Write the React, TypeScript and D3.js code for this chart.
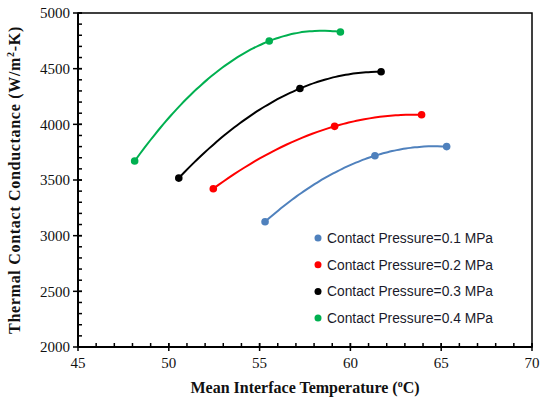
import React from 'react'
import * as d3 from 'd3'

const seriesNames = [
  'Contact Pressure=0.1 MPa',
  'Contact Pressure=0.2 MPa',
  'Contact Pressure=0.3 MPa',
  'Contact Pressure=0.4 MPa',
]
const seriesColors = ['#4f81bd', '#ff0000', '#000000', '#00b050']
const temps01 = [55.3, 61.35, 65.3]
const tcc01 = [3125, 3718, 3800]
const temps02 = [52.45, 59.13, 63.92]
const tcc02 = [3422, 3982, 4086]
const temps03 = [50.55, 57.22, 61.69]
const tcc03 = [3517, 4322, 4472]
const temps04 = [48.12, 55.53, 59.45]
const tcc04 = [3670, 4748, 4830]
const xTicks = [45, 50, 55, 60, 65, 70]
const yTicks = [2000, 2500, 3000, 3500, 4000, 4500, 5000]

const seriesData = [
  { temps: temps01, tcc: tcc01 },
  { temps: temps02, tcc: tcc02 },
  { temps: temps03, tcc: tcc03 },
  { temps: temps04, tcc: tcc04 },
]

const W = 541
const H = 407
const margin = { top: 13, right: 9, bottom: 60, left: 78 }

// 2nd order polynomial trendline through the three points (as drawn in the original)
const quadTrend = (xs: number[], ys: number[]) => {
  const [x1, x2, x3] = xs
  const [y1, y2, y3] = ys
  return (t: number) =>
    (y1 * (t - x2) * (t - x3)) / ((x1 - x2) * (x1 - x3)) +
    (y2 * (t - x1) * (t - x3)) / ((x2 - x1) * (x2 - x3)) +
    (y3 * (t - x1) * (t - x2)) / ((x3 - x1) * (x3 - x2))
}

const App = () => {
  const x = d3.scaleLinear().domain([45, 70]).range([margin.left, W - margin.right])
  const y = d3.scaleLinear().domain([2000, 5000]).range([H - margin.bottom, margin.top])
  const minorX = d3.range(45, 70.01, 1)
  const minorY = d3.range(2000, 5000.01, 100)

  const line = d3
    .line<[number, number]>()
    .x((d) => x(d[0]))
    .y((d) => y(d[1]))
    .curve(d3.curveMonotoneX)

  const x0 = x(45)
  const y0 = y(2000)

  return (
    <svg width={W} height={H} style={{ position: 'absolute', left: 0, top: 0, background: '#fff' }}>
      {/* plot frame */}
      <rect
        x={x(45)}
        y={y(5000)}
        width={x(70) - x(45)}
        height={y(2000) - y(5000)}
        fill='none'
        stroke='#000'
        strokeWidth={1.5}
      />
      <line x1={x0} x2={x(70)} y1={y0} y2={y0} stroke='#000' strokeWidth={2} />
      <line x1={x0} x2={x0} y1={y(5000)} y2={y0} stroke='#000' strokeWidth={2} />

      {/* minor ticks */}
      {minorX.map((v) => (
        <line key={'mx' + v} x1={x(v)} x2={x(v)} y1={y0} y2={y0 - 4} stroke='#000' strokeWidth={1.5} />
      ))}
      {minorY.map((v) => (
        <line key={'my' + v} x1={x0} x2={x0 + 4} y1={y(v)} y2={y(v)} stroke='#000' strokeWidth={1.5} />
      ))}
      {/* major ticks */}
      {xTicks.map((v) => (
        <g key={'xt' + v}>
          <line x1={x(v)} x2={x(v)} y1={y0 - 4} y2={y0 + 4} stroke='#000' strokeWidth={1.5} />
          <text
            x={x(v)}
            y={y0 + 21}
            textAnchor='middle'
            fontFamily='Liberation Serif'
            fontSize={15}
            fill='#111'
          >
            {v}
          </text>
        </g>
      ))}
      {yTicks.map((v) => (
        <g key={'yt' + v}>
          <line x1={x0 - 5} x2={x0 + 4} y1={y(v)} y2={y(v)} stroke='#000' strokeWidth={1.5} />
          <text
            x={x0 - 8}
            y={y(v)}
            dy='0.35em'
            textAnchor='end'
            fontFamily='Liberation Serif'
            fontSize={15}
            fill='#111'
          >
            {v}
          </text>
        </g>
      ))}

      {/* axis titles */}
      <text
        x={(x(45) + x(70)) / 2}
        y={H - 14}
        textAnchor='middle'
        fontFamily='Liberation Serif'
        fontWeight='bold'
        fontSize={16}
        fill='#111'
      >
        Mean Interface Temperature (
        <tspan fontSize={10} dy={-6}>
          o
        </tspan>
        <tspan dy={6}>C)</tspan>
      </text>
      <text
        transform={`translate(20, ${(y(2000) + y(5000)) / 2}) rotate(-90)`}
        textAnchor='middle'
        fontFamily='Liberation Serif'
        fontWeight='bold'
        fontSize={16}
        letterSpacing={0.7}
        fill='#111'
      >
        Thermal Contact Conductance (W/m
        <tspan fontSize={10} dy={-6}>
          2
        </tspan>
        <tspan dy={6}>-K)</tspan>
      </text>

      {/* series */}
      {seriesData.map((s, i) => {
        const pts: [number, number][] = s.temps.map((t, j) => [t, s.tcc[j]])
        const f = quadTrend(s.temps, s.tcc)
        const lo = s.temps[0]
        const hi = s.temps[2]
        const curvePts: [number, number][] = d3
          .range(0, 41)
          .map((k) => lo + ((hi - lo) * k) / 40)
          .map((t) => [t, f(t)])
        return (
          <g key={'s' + i}>
            <path d={line(curvePts) || ''} fill='none' stroke={seriesColors[i]} strokeWidth={2} />
            {pts.map((p, j) => (
              <circle key={j} cx={x(p[0])} cy={y(p[1])} r={3.8} fill={seriesColors[i]} />
            ))}
          </g>
        )
      })}

      {/* legend */}
      {seriesNames.map((name, i) => (
        <g key={'lg' + i} transform={`translate(318, ${238 + i * 26.7})`}>
          <circle cx={0} cy={0} r={3.5} fill={seriesColors[i]} />
          <text x={9} y={0} dy='0.35em' fontFamily='Liberation Sans' fontSize={13.8} fill='#1a1a2a'>
            {name}
          </text>
        </g>
      ))}
    </svg>
  )
}

export default App
